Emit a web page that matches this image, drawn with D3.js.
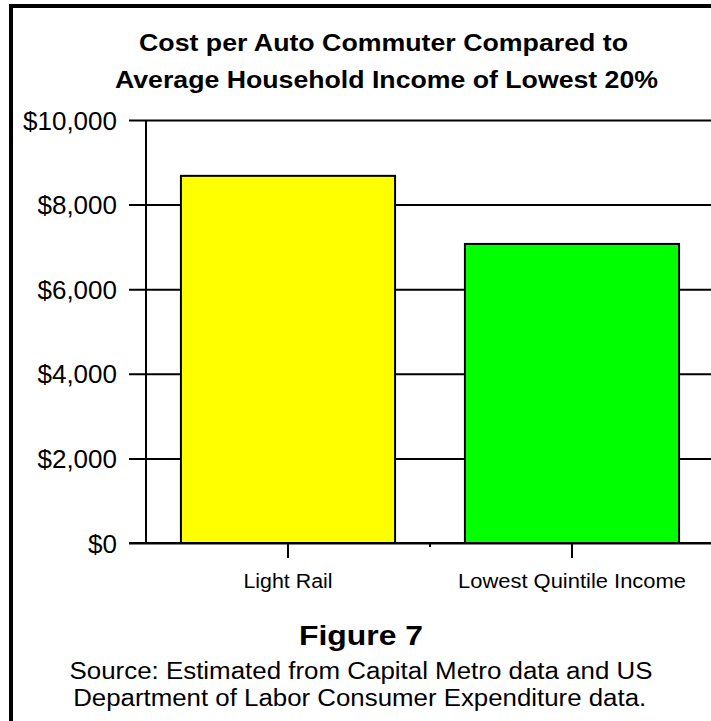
<!DOCTYPE html>
<html>
<head>
<meta charset="utf-8">
<script src="https://cdn.jsdelivr.net/npm/d3@7/dist/d3.min.js"></script>
<style>
  html, body { margin: 0; padding: 0; background: #fff; }
  svg { display: block; }
  text { font-family: "Liberation Sans", Arial, Helvetica, sans-serif; fill: #000; }
</style>
</head>
<body>
<svg id="chart" width="711" height="721"></svg>
<script>
// Chart data
const categories = ["Light Rail", "Lowest Quintile Income"];
const values = [8680, 7070];
const barColors = ["#ffff00", "#00ff00"];
const yTicks = [0, 2000, 4000, 6000, 8000, 10000];
const yTickLabels = ["$0", "$2,000", "$4,000", "$6,000", "$8,000", "$10,000"];
const titleLines = ["Cost per Auto Commuter Compared to", "Average Household Income of Lowest 20%"];
const figureLabel = "Figure 7";
const sourceLines = ["Source: Estimated from Capital Metro data and US", "Department of Labor Consumer Expenditure data."];

const W = 711, H = 721;
const svg = d3.select("#chart");

// Frame around the figure (runs off the right and bottom edges)
svg.append("rect")
  .attr("x", 11).attr("y", 6)
  .attr("width", W + 20).attr("height", H + 20)
  .attr("fill", "none").attr("stroke", "#000").attr("stroke-width", 4);

// Plot geometry
const plotLeft = 146, plotRight = 714, plotTop = 120, plotBottom = 543;

const x = d3.scaleBand()
  .domain(categories)
  .range([plotLeft, plotRight])
  .paddingInner(0.246)
  .paddingOuter(0.123);

const y = d3.scaleLinear()
  .domain([0, 10000])
  .range([plotBottom, plotTop]);

// Y axis with gridlines running across the plot
const yAxis = d3.axisLeft(y)
  .tickValues(yTicks)
  .tickFormat((d, i) => yTickLabels[i])
  .tickSizeInner(17)
  .tickSizeOuter(0)
  .tickPadding(12);

const gy = svg.append("g")
  .attr("transform", `translate(${plotLeft},0)`)
  .call(yAxis);
gy.select(".domain").remove();
gy.selectAll(".tick line")
  .attr("x1", W - plotLeft + 2)
  .attr("stroke", "#000")
  .attr("stroke-width", 2);
gy.selectAll(".tick text")
  .attr("font-size", 26)
  .attr("font-family", '"Liberation Sans", Arial, sans-serif')
  .attr("dy", null)
  .attr("y", 9);

// Vertical axis line
svg.append("line")
  .attr("x1", plotLeft).attr("x2", plotLeft)
  .attr("y1", y(10000)).attr("y2", y(0))
  .attr("stroke", "#000").attr("stroke-width", 2);

// Bars
svg.append("g").selectAll("rect")
  .data(categories)
  .join("rect")
  .attr("x", d => x(d))
  .attr("y", (d, i) => y(values[i]))
  .attr("width", x.bandwidth())
  .attr("height", (d, i) => y(0) - y(values[i]))
  .attr("fill", (d, i) => barColors[i])
  .attr("stroke", "#000")
  .attr("stroke-width", 2);

// Baseline redrawn over the bar bottoms
svg.append("line")
  .attr("x1", plotLeft - 17).attr("x2", W + 2)
  .attr("y1", y(0)).attr("y2", y(0))
  .attr("stroke", "#000").attr("stroke-width", 2);

// X axis: ticks at category centres
const xAxis = d3.axisBottom(x)
  .tickSizeInner(15)
  .tickSizeOuter(0)
  .tickPadding(16);

const gx = svg.append("g")
  .attr("transform", `translate(0,${plotBottom})`)
  .call(xAxis);
gx.select(".domain").remove();
gx.selectAll(".tick line").attr("stroke", "#000").attr("stroke-width", 2);
const catWidths = [89, 228];
gx.selectAll(".tick text")
  .attr("font-size", 20)
  .attr("font-family", '"Liberation Sans", Arial, sans-serif')
  .attr("textLength", (d, i) => catWidths[i])
  .attr("lengthAdjust", "spacingAndGlyphs");

// Small mark between the two categories
const boundary = x(categories[1]) - x.step() * x.paddingInner() / 2;
svg.append("line")
  .attr("x1", boundary).attr("x2", boundary)
  .attr("y1", plotBottom).attr("y2", plotBottom + 4)
  .attr("stroke", "#000").attr("stroke-width", 2);

// Title
const titleSpec = [
  { cx: 383.5, y: 51, w: 489 },
  { cx: 386.5, y: 88, w: 543 }
];
svg.append("g").selectAll("text")
  .data(titleLines)
  .join("text")
  .attr("x", (d, i) => titleSpec[i].cx)
  .attr("y", (d, i) => titleSpec[i].y)
  .attr("text-anchor", "middle")
  .attr("font-size", 23)
  .attr("font-weight", "bold")
  .attr("textLength", (d, i) => titleSpec[i].w)
  .attr("lengthAdjust", "spacingAndGlyphs")
  .text(d => d);

// Figure caption
svg.append("text")
  .attr("x", 361).attr("y", 645)
  .attr("text-anchor", "middle")
  .attr("font-size", 28)
  .attr("font-weight", "bold")
  .attr("textLength", 124)
  .attr("lengthAdjust", "spacingAndGlyphs")
  .text(figureLabel);

// Source note
const sourceSpec = [
  { cx: 361, y: 679, w: 583 },
  { cx: 359.7, y: 706, w: 573 }
];
svg.append("g").selectAll("text")
  .data(sourceLines)
  .join("text")
  .attr("x", (d, i) => sourceSpec[i].cx)
  .attr("y", (d, i) => sourceSpec[i].y)
  .attr("text-anchor", "middle")
  .attr("font-size", 23)
  .attr("textLength", (d, i) => sourceSpec[i].w)
  .attr("lengthAdjust", "spacingAndGlyphs")
  .text(d => d);
</script>
</body>
</html>
